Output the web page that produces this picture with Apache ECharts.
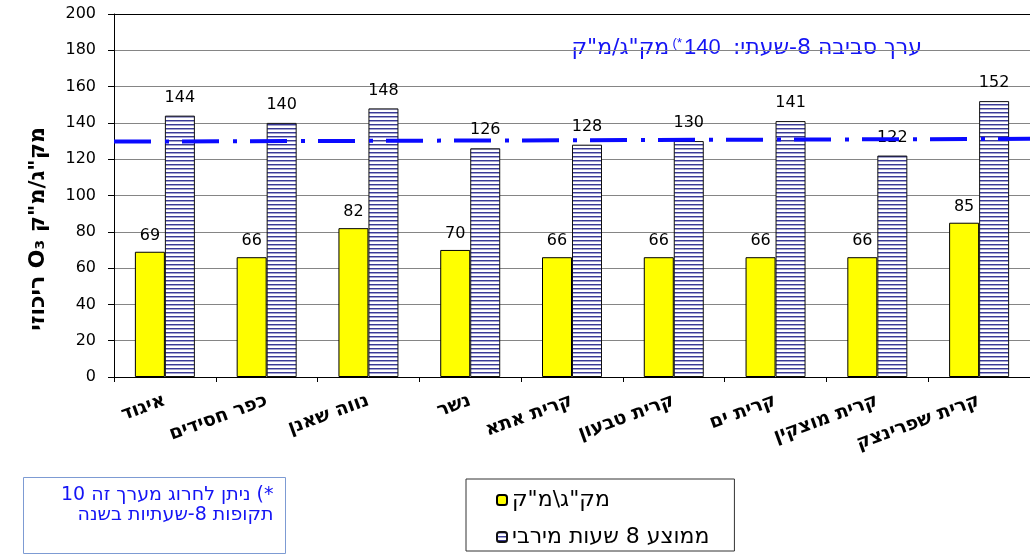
<!DOCTYPE html>
<html>
<head>
<meta charset="utf-8">
<script src="https://cdn.jsdelivr.net/npm/echarts@6/dist/echarts.min.js"></script>
<style>
  html, body { margin: 0; padding: 0; background: #fff; }
  #chart { width: 1030px; height: 556px; }
</style>
</head>
<body>
<div id="chart"></div>
<script>
// Stations
const categories = ['איגוד', 'כפר חסידים', 'נווה שאנן', 'נשר', 'קרית אתא', 'קרית טבעון', 'קרית ים', 'קרית מוצקין', 'קרית שפרינצק'];
// Mean concentration, µg/m³
const meanValues = [69, 66, 82, 70, 66, 66, 66, 66, 85];
// Maximum 8-hour average, µg/m³
const max8hValues = [144, 140, 148, 126, 128, 130, 141, 122, 152];
// Ambient-standard line, value at its left and right ends
const standardLine = [129.7, 131.2];

const seriesNames = ['מק"ג\\מ"ק', 'ממוצע 8 שעות מירבי'];

// Right-to-left run helper (RLM marks around a Hebrew string)
const rtl = s => '\u200F' + s + '\u200F';

// Horizontal hatch fill for the 8-hour bars
function hatch() {
  const c = document.createElement('canvas');
  c.width = 4; c.height = 4;
  const g = c.getContext('2d');
  g.fillStyle = '#ffffff'; g.fillRect(0, 0, 4, 4);
  g.fillStyle = '#3a3a96'; g.fillRect(0, 0, 4, 1);
  g.fillStyle = '#a4a4cf'; g.fillRect(0, 1, 4, 1);
  return { image: c, repeat: 'repeat' };
}

const blue = '#1414f5';
const heb = 'DejaVu Sans';
const chart = echarts.init(document.getElementById('chart'), null, { renderer: 'canvas' });

chart.setOption({
  animation: false,
  backgroundColor: '#ffffff',
  grid: { left: 114, top: 14, right: -4, bottom: 179, containLabel: false },
  xAxis: [{
    type: 'category',
    data: categories,
    axisLine: { lineStyle: { color: '#000', width: 1 } },
    axisTick: { show: true, length: 5, interval: 0, lineStyle: { color: '#000' } },
    axisLabel: {
      interval: 0, rotate: 20, margin: 23,
      fontFamily: 'DejaVu Sans', fontWeight: 'bold', fontSize: 19, color: '#000',
      formatter: v => rtl(v)
    }
  }, {
    type: 'value', min: 0, max: 1, position: 'top',
    axisLine: { show: true, lineStyle: { color: '#000', width: 1 } },
    axisTick: { show: false }, axisLabel: { show: false }, splitLine: { show: false }
  }],
  yAxis: {
    type: 'value', min: 0, max: 200, interval: 20,
    axisLine: { show: true, lineStyle: { color: '#000', width: 1 } },
    axisTick: { show: true, length: 6, inside: false, lineStyle: { color: '#000' } },
    axisLabel: { margin: 18, fontFamily: 'DejaVu Sans', fontSize: 16, color: '#000' },
    splitLine: { show: true, lineStyle: { color: '#858585', width: 1 } }
  },
  legend: {
    orient: 'vertical',
    left: 466, top: 479,
    padding: [10, 25, 3, 30],
    itemGap: 15,
    itemWidth: 10, itemHeight: 10,
    borderColor: '#333', borderWidth: 1,
    backgroundColor: '#fff',
    textStyle: { fontFamily: heb, fontSize: 22, color: '#000' },
    formatter: n => rtl(n),
    data: seriesNames
  },
  series: [{
    name: seriesNames[0],
    type: 'bar',
    data: meanValues,
    barWidth: 30,
    barGap: '0%',
    itemStyle: { color: '#ffff00', borderColor: '#000', borderWidth: 1 },
    label: { show: true, position: 'top', distance: 8, fontFamily: 'DejaVu Sans', fontSize: 16, color: '#000' }
  }, {
    name: seriesNames[1],
    type: 'bar',
    data: max8hValues,
    barWidth: 30,
    itemStyle: { color: hatch(), borderColor: '#111', borderWidth: 1 },
    label: { show: true, position: 'top', distance: 10, fontFamily: 'DejaVu Sans', fontSize: 16, color: '#000' }
  }, {
    name: 'standard',
    type: 'line',
    xAxisIndex: 1,
    data: [[0, standardLine[0]], [1, standardLine[1]]],
    symbol: 'none',
    z: 5,
    silent: true,
    lineStyle: { color: '#0a0aff', width: 4, type: [37, 14, 4, 13] }
  }],
  graphic: [{
    // vertical axis title
    type: 'text',
    x: 38, y: 229,
    rotation: Math.PI / 2,
    style: {
      text: rtl('ריכוזי O₃ מק"ג/מ"ק'),
      font: 'bold 22px "DejaVu Sans"',
      fill: '#000',
      textAlign: 'center', textVerticalAlign: 'middle'
    }
  }, {
    // standard value annotation on the 180 gridline
    type: 'text',
    right: 108, top: 37,
    style: {
      text: '{u|' + rtl('מק"ג/מ"ק') + '} {s|(*}{n|140}{n|  }{h|' + rtl('ערך סביבה 8-שעתי:') + '}',
      backgroundColor: '#fff',
      padding: [0, 0, 0, 20],
      rich: {
        u: { fontFamily: heb, fontSize: 22, fill: blue },
        s: { fontFamily: 'Liberation Sans', fontSize: 13, fill: blue, verticalAlign: 'top', padding: [0, 2, 9, 0] },
        n: { fontFamily: 'Liberation Sans', fontSize: 22, fill: blue },
        h: { fontFamily: heb, fontSize: 22, fill: blue }
      }
    }
  }, {
    // footnote box
    type: 'group',
    left: 23, top: 477,
    children: [{
      type: 'rect',
      shape: { x: 0, y: 0, width: 262, height: 76 },
      style: { fill: '#fff', stroke: '#7d9bd3', lineWidth: 1 }
    }, {
      type: 'text',
      x: 250, y: 8,
      style: {
        text: rtl('*) ניתן לחרוג מערך זה 10') + '\n' + rtl('תקופות 8-שעתיות בשנה'),
        font: '19px "DejaVu Sans"',
        lineHeight: 20,
        fill: blue,
        textAlign: 'right', textVerticalAlign: 'top'
      }
    }]
  }]
});
</script>
</body>
</html>
